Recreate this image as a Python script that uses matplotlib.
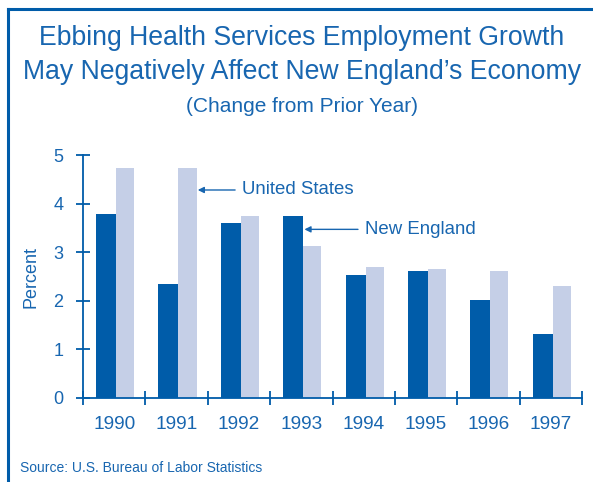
import matplotlib.pyplot as plt
from matplotlib.lines import Line2D

# data
years = ['1990', '1991', '1992', '1993', '1994', '1995', '1996', '1997']
new_england = [3.79, 2.35, 3.60, 3.74, 2.53, 2.61, 2.02, 1.32]
united_states = [4.73, 4.73, 3.74, 3.13, 2.70, 2.65, 2.61, 2.30]

BLUE_TEXT = '#1866b0'
DARK = '#005ca9'
LIGHT = '#c5cfe7'

plt.rcParams['font.family'] = ['Liberation Sans', 'DejaVu Sans']

fig = plt.figure(figsize=(5.93, 4.82), dpi=100)
ax = fig.add_axes([83 / 593, 1 - 398 / 482, 499 / 593, 243 / 482])

# bars: dark (New England) then light (United States) in each slot
x = range(len(years))
ne_left = [i + 0.21 for i in x]
us_left = [i + 0.53 for i in x]
ax.bar(ne_left, new_england, width=0.32, align='edge', color=DARK, zorder=2)
ax.bar(us_left, united_states, width=0.29, align='edge', color=LIGHT, zorder=2)

ax.set_xlim(0, len(years))
ax.set_ylim(0, 5)
ax.set_yticks(range(6))
ax.set_xticks(range(len(years) + 1))
ax.set_xticklabels([])
ax.set_xticks([i + 0.5 for i in x], minor=True)
ax.set_xticklabels(years, minor=True)

for s in ['top', 'right']:
    ax.spines[s].set_visible(False)
for s in ['left', 'bottom']:
    ax.spines[s].set_color(DARK)
    ax.spines[s].set_linewidth(1.3)

ax.tick_params(axis='y', which='major', direction='inout', length=10, width=1.3,
               color=DARK, labelcolor=BLUE_TEXT, labelsize=13, pad=9)
ax.tick_params(axis='x', which='major', direction='inout', length=10, width=1.3,
               color=DARK)
ax.tick_params(axis='x', which='minor', length=0, labelcolor=BLUE_TEXT,
               labelsize=13.7, pad=13)
ax.set_ylabel('Percent', color=BLUE_TEXT, fontsize=13, labelpad=10)

# callouts pointing at the 1991 US bar and 1993 NE bar
us_tip = us_left[1] + 0.29
ax.annotate('United States', xy=(us_tip + 0.02, 4.28), xytext=(2.55, 4.28),
            color=BLUE_TEXT, fontsize=13.4, va='center',
            arrowprops=dict(arrowstyle='-|>', color=BLUE_TEXT, lw=1.0,
                            mutation_scale=9, shrinkA=3, shrinkB=0))
ne_tip = ne_left[3] + 0.32
ax.annotate('New England', xy=(ne_tip + 0.02, 3.47), xytext=(4.52, 3.47),
            color=BLUE_TEXT, fontsize=13.4, va='center',
            arrowprops=dict(arrowstyle='-|>', color=BLUE_TEXT, lw=1.0,
                            mutation_scale=9, shrinkA=3, shrinkB=0))

# titles
fig.text(302 / 593, 1 - 38 / 482, 'Ebbing Health Services Employment Growth',
         ha='center', va='center', color=BLUE_TEXT, fontsize=19.2)
fig.text(302 / 593, 1 - 72 / 482, 'May Negatively Affect New England\u2019s Economy',
         ha='center', va='center', color=BLUE_TEXT, fontsize=19.2)
fig.text(302 / 593, 1 - 107 / 482, '(Change from Prior Year)',
         ha='center', va='center', color=BLUE_TEXT, fontsize=15)
fig.text(20 / 593, 1 - 468 / 482, 'Source: U.S. Bureau of Labor Statistics',
         ha='left', va='center', color=BLUE_TEXT, fontsize=10)

# frame: top and left rules
fig.add_artist(Line2D([8 / 593, 1], [1 - 9 / 482, 1 - 9 / 482],
                      transform=fig.transFigure, color=DARK, lw=2.2))
fig.add_artist(Line2D([8 / 593, 8 / 593], [0, 1 - 9 / 482],
                      transform=fig.transFigure, color=DARK, lw=2.2))

fig.savefig('out.png', dpi=100)
